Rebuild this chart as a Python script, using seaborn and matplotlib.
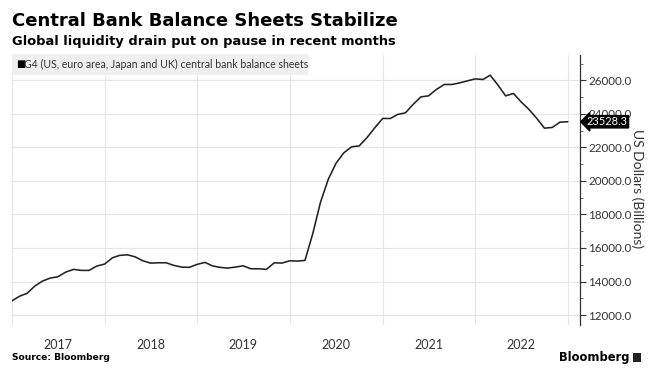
import matplotlib
matplotlib.use("Agg")
import matplotlib.pyplot as plt
from matplotlib.ticker import MultipleLocator, FuncFormatter
import seaborn as sns
import pandas as pd

title = "Central Bank Balance Sheets Stabilize"
subtitle = "Global liquidity drain put on pause in recent months"
series_name = "G4 (US, euro area, Japan and UK) central bank balance sheets"
y_label = "US Dollars (Billions)"
source = "Source: Bloomberg"
year_labels = ["2017", "2018", "2019", "2020", "2021", "2022"]

start_month = "2017-01-01"
values = [
    12852, 13132, 13293, 13728, 14026, 14205, 14283, 14563, 14724, 14664,
    14664, 14920, 15040, 15415, 15558, 15594, 15475, 15236, 15099, 15118,
    15118, 14962, 14861, 14843, 15022, 15141, 14938, 14843, 14801, 14861,
    14938, 14759, 14759, 14724, 15117, 15099, 15236, 15218, 15260, 16869,
    18720, 20100, 21041, 21673, 22031, 22090, 22591, 23163, 23723, 23723,
    23962, 24057, 24558, 25011, 25070, 25452, 25750, 25750, 25845, 25964,
    26083, 26048, 26304, 25708, 25070, 25213, 24713, 24260, 23723, 23145,
    23187, 23503, 23528.3,
]
last_value = 23528.3

dates = pd.date_range(start_month, periods=len(values), freq="MS")
df = pd.DataFrame({"date": dates, "value": values})

sns.set_theme(style="white")
plt.rcParams["font.family"] = ["Lato", "DejaVu Sans"]

fig = plt.figure(figsize=(6.54, 3.75), dpi=100)
ax = fig.add_axes([0.0183, 0.133, 0.8685, 0.72])

sns.lineplot(data=df, x="date", y="value", ax=ax, color="#222222", linewidth=1.15)

ax.set_xlim(pd.Timestamp("2017-01-01"), pd.Timestamp("2023-02-18"))
ax.set_ylim(11400, 27500)

# y axis on right
ax.yaxis.tick_right()
ax.yaxis.set_label_position("right")
ax.yaxis.set_major_locator(MultipleLocator(2000))
ax.yaxis.set_minor_locator(MultipleLocator(1000))
ax.yaxis.set_major_formatter(FuncFormatter(lambda v, p: f"{v:.1f}" if v >= 12000 else ""))
ax.tick_params(axis="y", which="major", direction="out", length=4, width=0.8,
               colors="#333333", labelsize=8.4, right=True, left=False, pad=2)
ax.tick_params(axis="y", which="minor", direction="out", length=2.5, width=0.6,
               colors="#555555", right=True, left=False)
ax.set_ylabel(y_label, rotation=270, fontsize=10, color="#333333", va="center", ha="center")
ax.yaxis.set_label_coords((637 - 12) / 568, (1 - 189 / 375 - 0.133) / 0.72)

# x axis: gridlines at year boundaries, labels at mid-year
year_starts = pd.date_range("2017-01-01", "2023-01-01", freq="YS")
ax.set_xticks(year_starts)
ax.set_xticklabels([""] * len(year_starts))
ax.set_xticks([pd.Timestamp(f"{y}-07-02") for y in year_labels], minor=True)
ax.set_xticklabels(year_labels, minor=True)
ax.tick_params(axis="x", which="both", length=0, labelsize=9, colors="#333333", pad=14)
for lbl in ax.get_xticklabels(minor=True):
    lbl.set_y(0.02)

ax.grid(True, which="major", axis="both", color="#e6e6e6", linewidth=0.8)
ax.set_axisbelow(True)
ax.set_xlabel("")

for s in ["top", "left", "bottom"]:
    ax.spines[s].set_visible(False)
ax.spines["right"].set_color("#333333")
ax.spines["right"].set_linewidth(0.9)

# legend box
fig.patches.append(plt.Rectangle((12 / 654, 1 - 75 / 375), 296 / 654, 21 / 375,
                                 transform=fig.transFigure, facecolor="#efefef",
                                 edgecolor="none", zorder=5))
fig.text(16 / 654, 1 - 64.5 / 375, "\u25a0", fontsize=7, color="black", va="center", ha="left",
         zorder=6, family="DejaVu Sans")
fig.text(24 / 654, 1 - 64.5 / 375, series_name, fontsize=7.6, color="#333333",
         va="center", ha="left", zorder=6)

# last value label
ax.annotate(f"{last_value:.1f}", xy=(1.0, last_value), xycoords=("axes fraction", "data"),
            xytext=(5, 0), textcoords="offset points", ha="left", va="center",
            fontsize=8, color="white",
            bbox=dict(boxstyle="larrow,pad=0.06", facecolor="black", edgecolor="black"),
            annotation_clip=False, zorder=10)

# titles
fig.text(12 / 654, 1 - 21 / 375, title, fontsize=13, fontweight="bold", color="black",
         ha="left", va="center", family="DejaVu Sans")
fig.text(12 / 654, 1 - 42 / 375, subtitle, fontsize=9.4, fontweight="bold", color="black",
         ha="left", va="center", family="DejaVu Sans")

fig.text(12 / 654, 1 - 358 / 375, source, fontsize=6.6, fontweight="bold", color="black",
         ha="left", va="center", family="DejaVu Sans")
fig.text(629 / 654, 1 - 357 / 375, "Bloomberg", fontsize=8.3, fontweight="bold", color="black",
         ha="right", va="center", family="DejaVu Sans")
fig.patches.append(plt.Rectangle((633 / 654, 1 - 362 / 375), 8 / 654, 9 / 375,
                                 transform=fig.transFigure, facecolor="#222222",
                                 edgecolor="none"))

fig.savefig("out.png", dpi=100, facecolor="white")
